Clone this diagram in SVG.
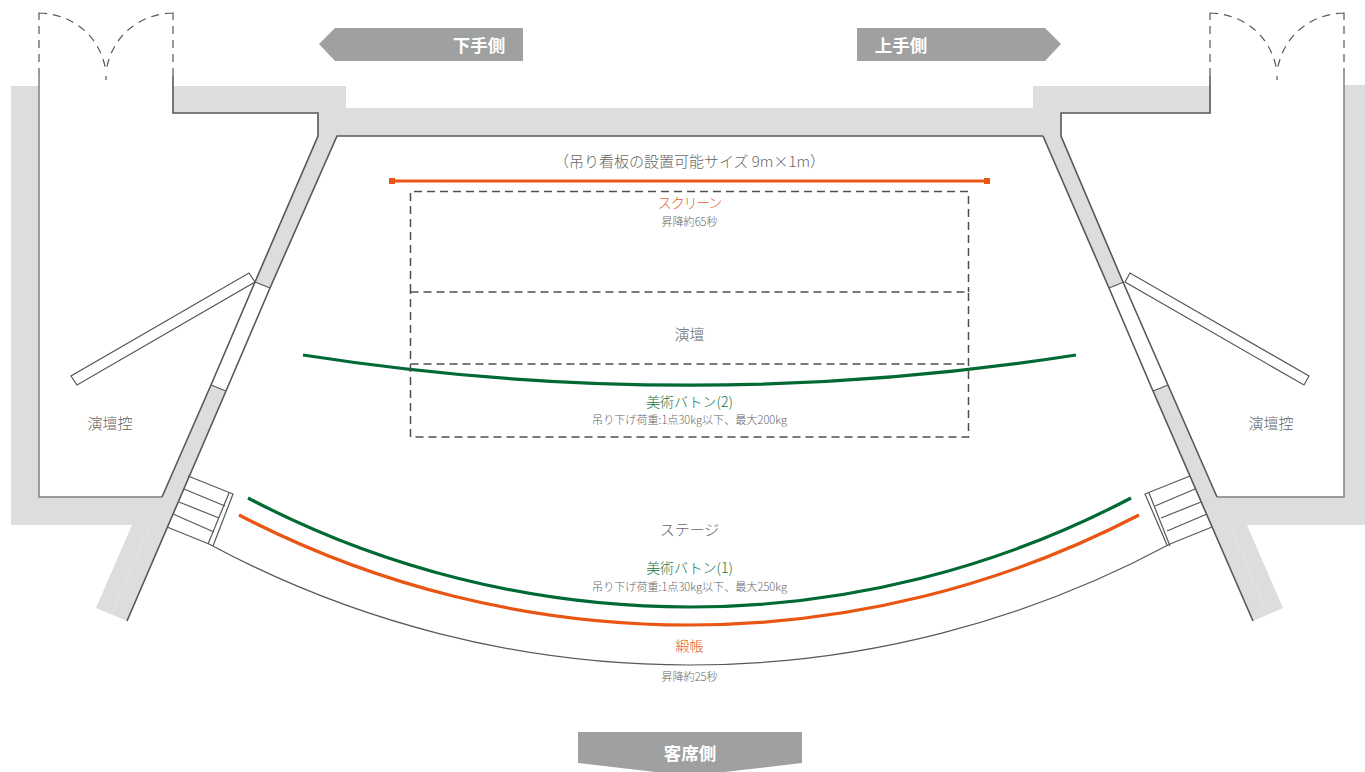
<svg xmlns="http://www.w3.org/2000/svg" width="1365" height="772" viewBox="0 0 1365 772">
<style>
text{font-family:"Noto Sans CJK JP","Noto Sans",sans-serif;text-anchor:middle;fill:#666;font-weight:300}
.wall{fill:#dcdddd}
.ln{fill:none;stroke:#595757;stroke-width:1.2}
.ln2{fill:none;stroke:#595757;stroke-width:1.6}
.rm{fill:none;stroke:#808080;stroke-width:1.5}
.dash{fill:none;stroke:#595757;stroke-width:1.2;stroke-dasharray:8 6}
.zone{fill:none;stroke:#4f4f4f;stroke-width:1.5;stroke-dasharray:8 5}
.or{fill:none;stroke:#e95513;stroke-width:3.2}
.gr{fill:none;stroke:#006934;stroke-width:3.2}
.tag{fill:#9fa0a0}
text.tagt{fill:#fff;font-size:17.5px;font-weight:700}
.s{font-size:11.1px}
.m{font-size:15px}
text.ot{fill:#e8601f;font-size:14px}
text.gt{fill:#0f7443;font-size:14px}
.hair{stroke:#fff;stroke-opacity:.35;stroke-width:.7;fill:none}
</style>
<g id="walls">
<path class="wall" d="M11 86H39V497H162L211 385L226 391L127 621L96 608L132 525H11Z"/>
<path class="wall" d="M173 86H346V108H1033V86H1211V113H1061V136L1123 282L1109 288L1043 136H337L270 288L255 282L318 136V113H173Z"/>
<path class="wall" d="M1365 85H1344V497H1217L1168 385L1153 391L1253 621L1283 608L1247 525H1365Z"/>
<path class="hair" d="M150 525L112 613M1230 525L1267 613"/>
</g>
<g id="left-room">
<path class="rm" d="M39 76V497H162"/>
<path class="ln2" d="M173 76V113H318V136L255 282L211 385L162 497"/>
<path class="dash" d="M39 76V13H44M39 13C75 14 100 38 105.500 69M173 76V13H168M173 13C137 14 112 38 106.500 69M106 76V80"/>
<path class="ln" d="M255 282L249 273L71 376L77 385Z"/>
<path class="ln" d="M255 282L270 288M211 385L226 391"/>
</g>
<g id="right-room">
<path class="rm" d="M1344 76V497H1217"/>
<path class="ln2" d="M1210 76V113H1061V136L1123 282L1168 385L1217 497"/>
<path class="dash" d="M1210 76V13H1215M1210 13C1246 14 1271 38 1276.500 69M1344 76V13H1339M1344 13C1308 14 1283 38 1277.500 69M1277 76V80"/>
<path class="ln" d="M1125 282L1130 273L1309 376L1304 385Z"/>
<path class="ln" d="M1124 282L1109 288M1168 385L1153 391"/>
</g>
<g id="stage-walls">
<path class="ln2" d="M1043 136H337L270 288L226 391L127 621"/>
<path class="ln2" d="M1043 136L1109 288L1153 391L1253 621"/>
</g>
<g id="stairs-left">
<path class="ln" d="M188 476L233 494L213 546M229 493L208 544M184 489L225 506M179 502L219 518M173 514L214 532M167 527L209 544"/>
</g>
<g id="stairs-right">
<path class="ln" d="M1190 476L1145 494L1167 545M1149 493L1170 546M1195 489L1155 506M1201 502L1161 518M1207 514L1167 531M1212 527L1170 544"/>
</g>
<g id="connectors">
<path class="ln" d="M209 544A1014.500 1014.500 0 0 0 1170 544"/>
<path class="gr" d="M248 498A948.600 948.600 0 0 0 1131 498"/>
<path class="or" d="M239 515A975.500 975.500 0 0 0 1139 515"/>
<path class="gr" d="M303 355A2505 2505 0 0 0 1076 355"/>
<path class="or" d="M392 181H987"/>
<rect x="389" y="178" width="6" height="6" fill="#e95513"/>
<rect x="984" y="178" width="6" height="6" fill="#e95513"/>
</g>
<g id="screen-zone"><path class="zone" d="M410.500 292V191.500H968.500V292"/></g>
<g id="stage-zone"><path class="zone" d="M410.500 292H968.500V437H410.500Z"/><path class="zone" d="M410.500 364H968.500"/></g>
<g id="tag-left"><polygon class="tag" points="319,44 335,28 523,28 523,61 335,61"/><text class="tagt" x="479" y="52">下手側</text></g>
<g id="tag-right"><polygon class="tag" points="857,28 1045,28 1061,44 1045,61 857,61"/><text class="tagt" x="901" y="52">上手側</text></g>
<g id="tag-bottom"><polygon class="tag" points="578,732 802,732 802,763 690,776 578,763"/><text class="tagt" x="690" y="760">客席側</text></g>
<g id="labels">
<text class="m" x="689.500" y="167">（吊り看板の設置可能サイズ 9m×1m）</text>
<text class="ot" x="689.500" y="208" style="letter-spacing:-1.200px">スクリーン</text>
<text class="s" x="689.500" y="226">昇降約65秒</text>
<text class="m" x="689.500" y="340">演壇</text>
<text class="gt" x="689.500" y="407">美術バトン(2)</text>
<text class="s" x="689.500" y="424">吊り下げ荷重:1点30kg以下、最大200kg</text>
<text class="m" x="110" y="429">演壇控</text>
<text class="m" x="1271" y="429">演壇控</text>
<text class="m" x="689.500" y="535">ステージ</text>
<text class="gt" x="689.500" y="573">美術バトン(1)</text>
<text class="s" x="689.500" y="591">吊り下げ荷重:1点30kg以下、最大250kg</text>
<text class="ot" x="689.500" y="651">緞帳</text>
<text class="s" x="689.500" y="681">昇降約25秒</text>
</g>
</svg>
